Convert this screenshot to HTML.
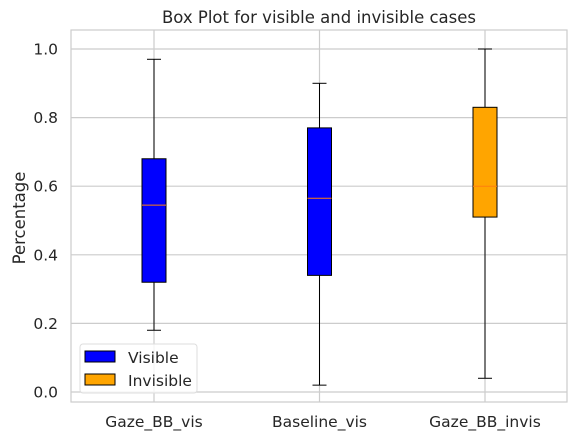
<!DOCTYPE html>
<html><head><meta charset="utf-8"><style>body{margin:0;background:#fff}svg{display:block;font-family:"DejaVu Sans","Liberation Sans",sans-serif}</style></head>
<body>
<svg id="c" width="577" height="441">
<text x="319" y="23" font-size="16.5" text-anchor="middle" fill="#262626">Box Plot for visible and invisible cases</text>
<rect x="71" y="30" width="496" height="372" fill="none" stroke="#ccc" stroke-width="1.2"/>
<g id="grid"></g><g id="boxes"></g>
<text transform="translate(25,218) rotate(-90)" font-size="16.5" text-anchor="middle" fill="#262626">Percentage</text>
<g>
<rect x="80" y="344" width="117" height="49" rx="3" fill="#fff" fill-opacity="0.8" stroke="#ddd"/>
<rect x="85" y="351" width="30" height="11" fill="#0000ff" stroke="#000"/>
<text x="128" y="363" font-size="15.5" fill="#262626">Visible</text>
<rect x="85" y="374" width="30" height="11" fill="#ffa500" stroke="#000"/>
<text x="128" y="386" font-size="15.5" fill="#262626">Invisible</text>
</g>
</svg>
<script>
const categories=["Gaze_BB_vis","Baseline_vis","Gaze_BB_invis"];
const whiskerLow=[0.18,0.02,0.04];
const q1=[0.32,0.34,0.51];
const medians=[0.545,0.565,0.60];
const q3=[0.68,0.77,0.83];
const whiskerHigh=[0.97,0.90,1.0];
const colors=["#0000ff","#0000ff","#ffa500"];
const yTicks=[0.0,0.2,0.4,0.6,0.8,1.0];
const NS="http://www.w3.org/2000/svg";
const y=v=>392-v*343;
const x=i=>154+i*165.5;
function mk(t,a,p){const e=document.createElementNS(NS,t);for(const k in a)e.setAttribute(k,a[k]);p.appendChild(e);return e;}
const grid=document.getElementById('grid'),boxes=document.getElementById('boxes');
yTicks.forEach(v=>{
 const l=mk('line',{x1:71,x2:567,y1:y(v),y2:y(v),stroke:'#ccc','stroke-width':1.2},grid);
 
 
 const t=mk('text',{x:58,y:y(v)+5.5,'font-size':15.5,'text-anchor':'end',fill:'#262626'},grid);
 t.textContent=v.toFixed(1);
 
 
});
categories.forEach((c,i)=>{
 const cx=x(i);
 const gl=mk('line',{x1:cx,x2:cx,y1:30,y2:402,stroke:'#ccc','stroke-width':1.2},grid);
 
 
 const t=mk('text',{x:cx,y:427,'font-size':15.5,'text-anchor':'middle',fill:'#262626'},grid);
 t.textContent=c;
 
 
 const g=mk('g',{},boxes);
 
 
 mk('line',{x1:cx,x2:cx,y1:y(whiskerLow[i]),y2:y(q1[i]),stroke:'#000'},g);
 mk('line',{x1:cx,x2:cx,y1:y(q3[i]),y2:y(whiskerHigh[i]),stroke:'#000'},g);
 mk('line',{x1:cx-7,x2:cx+7,y1:y(whiskerLow[i]),y2:y(whiskerLow[i]),stroke:'#000'},g);
 mk('line',{x1:cx-7,x2:cx+7,y1:y(whiskerHigh[i]),y2:y(whiskerHigh[i]),stroke:'#000'},g);
 mk('rect',{x:cx-12,y:y(q3[i]),width:24,height:y(q1[i])-y(q3[i]),fill:colors[i],stroke:'#000'},g);
 mk('line',{x1:cx-12,x2:cx+12,y1:y(medians[i]),y2:y(medians[i]),stroke:'#ff7f0e'},g);
});
</script>
</body></html>
